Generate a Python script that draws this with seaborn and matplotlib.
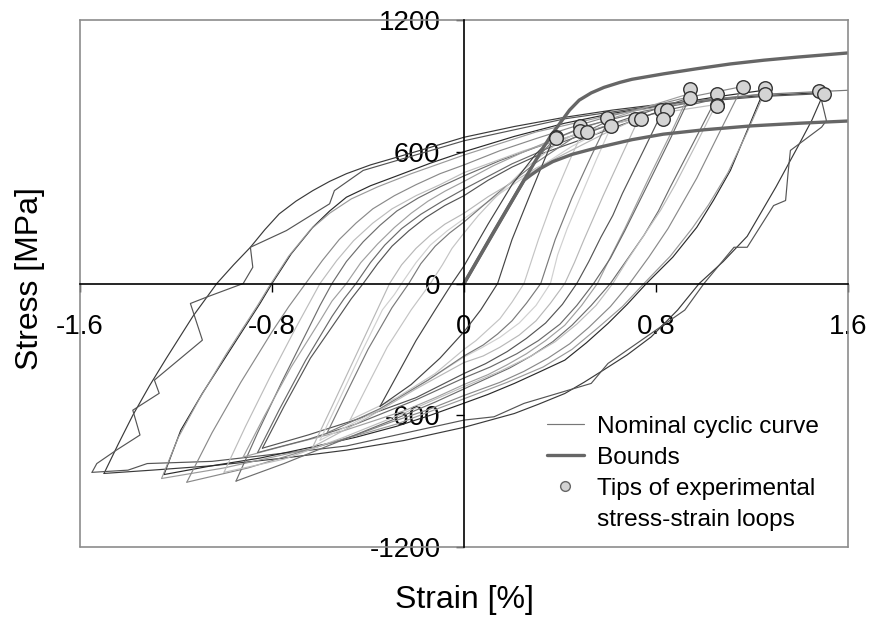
import matplotlib
matplotlib.use("Agg")
import matplotlib.pyplot as plt
import pandas as pd
import seaborn as sns
from matplotlib.lines import Line2D

sns.set_theme(style="white")
plt.rcParams["font.family"] = ["Liberation Sans", "DejaVu Sans"]
plt.rcParams["text.color"] = "black"
plt.rcParams["axes.labelcolor"] = "black"
plt.rcParams["xtick.color"] = "black"
plt.rcParams["ytick.color"] = "black"

# ---------------- axis ticks ----------------
x_ticks = [-1.6, -0.8, 0.0, 0.8, 1.6]
x_tick_labels = ["-1.6", "-0.8", "0", "0.8", "1.6"]
y_ticks = [-1200, -600, 0, 600, 1200]
y_tick_labels = ["-1200", "-600", "0", "600", "1200"]

# ---------------- hysteresis loops (strain %, stress MPa) ----------------
loop1_asc = [(-1.50, -865), (-1.44, -730), (-1.38, -600), (-1.31, -465), (-1.24, -340), (-1.13, -150),
             (-1.03, 0), (-0.96, 85), (-0.89, 165), (-0.83, 245), (-0.77, 317), (-0.70, 375),
             (-0.63, 423), (-0.56, 465), (-0.49, 500), (-0.39, 540), (-0.28, 575), (-0.14, 620),
             (0.0, 666), (0.21, 715), (0.42, 757), (0.62, 790), (0.83, 818), (1.04, 840),
             (1.25, 856), (1.50, 870)]
loop1_desc = [(1.50, 870), (1.45, 745), (1.39, 621), (1.30, 440), (1.18, 215), (1.08, 100),
              (0.98, 0), (0.89, -121), (0.78, -243), (0.68, -325), (0.58, -395), (0.50, -450),
              (0.42, -501), (0.31, -550), (0.21, -592), (0.10, -625), (0.0, -655), (-0.25, -715),
              (-0.49, -759), (-0.75, -795), (-1.05, -830), (-1.30, -850), (-1.50, -865)]
loop1b_asc = [(-1.55, -860), (-1.53, -820), (-1.45, -760), (-1.35, -690), (-1.38, -577), (-1.27, -500),
              (-1.29, -440), (-1.09, -258), (-1.14, -91), (-1.07, -61), (-0.92, 0), (-0.88, 74),
              (-0.89, 165), (-0.74, 241), (-0.56, 363), (-0.54, 423), (-0.42, 515), (-0.28, 560),
              (0.0, 650), (0.42, 750), (0.83, 815), (1.25, 852), (1.50, 865)]
loop1b_desc = [(1.50, 865), (1.49, 833), (1.51, 742), (1.49, 712), (1.36, 606), (1.35, 500),
               (1.34, 378), (1.29, 355), (1.18, 165), (1.125, 165), (1.0, 0), (0.92, -121),
               (0.60, -364), (0.53, -455), (0.25, -546), (0.125, -607), (0.0, -622), (-0.49, -740),
               (-1.05, -810), (-1.32, -820), (-1.40, -850), (-1.55, -860)]
loop2_asc = [(-1.25, -870), (-1.18, -668), (-1.09, -500), (-0.975, -304), (-0.85, -91), (-0.80, 0),
             (-0.72, 135), (-0.63, 256), (-0.56, 330), (-0.49, 393), (-0.39, 445), (-0.28, 490),
             (-0.14, 548), (0.0, 600), (0.21, 670), (0.42, 730), (0.62, 775), (0.83, 810),
             (1.05, 850), (1.25, 880)]
loop2_desc = [(1.25, 880), (1.18, 697), (1.11, 515), (1.04, 380), (0.97, 256), (0.87, 120), (0.76, 0),
              (0.68, -95), (0.60, -182), (0.51, -270), (0.42, -349), (0.31, -405), (0.21, -455),
              (0.10, -505), (0.0, -545), (-0.14, -600), (-0.28, -650), (-0.45, -700), (-0.63, -744),
              (-0.85, -795), (-1.05, -830), (-1.25, -870)]
loop2b_asc = [(-1.26, -888), (-1.19, -700), (-1.10, -520), (-0.99, -320), (-0.86, -100), (-0.81, -10),
              (-0.73, 125), (-0.64, 245), (-0.56, 320), (-0.47, 385), (-0.36, 440), (-0.22, 500),
              (0.0, 585), (0.30, 690), (0.62, 770), (0.95, 830), (1.25, 864)]
loop2b_desc = [(1.25, 864), (1.18, 690), (1.10, 505), (1.02, 360), (0.95, 250), (0.86, 125), (0.75, 0),
               (0.66, -105), (0.56, -200), (0.45, -300), (0.33, -380), (0.18, -450), (0.0, -525),
               (-0.28, -640), (-0.63, -750), (-1.0, -840), (-1.26, -888)]
loop3_asc = [(-1.155, -905), (-1.05, -680), (-0.93, -450), (-0.80, -220), (-0.73, -105), (-0.66, 0),
             (-0.59, 105), (-0.52, 200), (-0.45, 275), (-0.38, 340), (-0.29, 400), (-0.20, 450),
             (-0.10, 500), (0.0, 540), (0.15, 605), (0.30, 660), (0.45, 712), (0.60, 760),
             (0.75, 800), (0.90, 840), (1.16, 897)]
loop3_desc = [(1.16, 897), (1.07, 700), (0.97, 480), (0.91, 365), (0.85, 250), (0.77, 120), (0.69, 0),
              (0.61, -105), (0.52, -200), (0.44, -275), (0.35, -340), (0.25, -400), (0.15, -450),
              (0.0, -510), (-0.15, -575), (-0.30, -630), (-0.45, -690), (-0.60, -740), (-0.75, -790),
              (-0.90, -840), (-1.155, -905)]
loop4_asc = [(-0.95, -900), (-0.86, -680), (-0.76, -450), (-0.65, -210), (-0.60, -100), (-0.55, 0),
             (-0.49, 100), (-0.42, 190), (-0.35, 265), (-0.28, 330), (-0.19, 390), (-0.10, 440),
             (0.0, 490), (0.15, 560), (0.30, 620), (0.45, 672), (0.60, 720), (0.85, 790), (1.05, 840)]
loop4_desc = [(1.05, 840), (0.96, 650), (0.86, 440), (0.81, 330), (0.75, 220), (0.68, 110), (0.61, 0),
              (0.53, -100), (0.45, -190), (0.37, -265), (0.28, -330), (0.19, -385), (0.10, -430),
              (0.0, -480), (-0.12, -540), (-0.25, -600), (-0.50, -710), (-0.75, -820), (-0.95, -900)]
loop4b_asc = [(-1.0, -860), (-0.91, -650), (-0.81, -430), (-0.70, -200), (-0.65, -100), (-0.60, 0),
              (-0.53, 105), (-0.46, 195), (-0.38, 275), (-0.30, 340), (-0.20, 400), (-0.10, 450),
              (0.0, 505), (0.25, 605), (0.50, 690), (0.78, 770), (1.05, 815)]
loop4b_desc = [(1.05, 815), (0.97, 640), (0.88, 450), (0.82, 335), (0.75, 220), (0.68, 105), (0.62, 0),
               (0.55, -100), (0.47, -185), (0.38, -265), (0.28, -330), (0.15, -400), (0.0, -470),
               (-0.25, -590), (-0.50, -700), (-0.75, -800), (-1.0, -860)]
loop5_asc = [(-0.92, -790), (-0.83, -600), (-0.72, -380), (-0.60, -170), (-0.55, -80), (-0.49, 0),
             (-0.43, 95), (-0.36, 180), (-0.29, 255), (-0.22, 320), (-0.15, 375), (-0.08, 420),
             (0.0, 465), (0.12, 535), (0.25, 600), (0.38, 660), (0.50, 710), (0.75, 800), (0.94, 865)]
loop5_desc = [(0.94, 865), (0.86, 680), (0.77, 480), (0.72, 365), (0.67, 250), (0.61, 120), (0.556, 0),
              (0.49, -100), (0.42, -190), (0.34, -260), (0.26, -320), (0.18, -370), (0.10, -415),
              (0.0, -460), (-0.12, -520), (-0.25, -580), (-0.50, -670), (-0.75, -740), (-0.92, -790)]
loop5b_asc = [(-0.86, -770), (-0.77, -575), (-0.66, -350), (-0.55, -150), (-0.50, -70), (-0.45, 0),
              (-0.39, 95), (-0.33, 175), (-0.26, 250), (-0.18, 315), (-0.09, 375), (0.0, 430),
              (0.20, 545), (0.40, 640), (0.65, 740), (0.94, 846)]
loop5b_desc = [(0.94, 846), (0.86, 660), (0.77, 460), (0.72, 350), (0.67, 240), (0.61, 115), (0.54, 0),
               (0.47, -100), (0.40, -185), (0.31, -260), (0.22, -320), (0.11, -380), (0.0, -430),
               (-0.20, -530), (-0.45, -640), (-0.65, -710), (-0.86, -770)]
loop6_asc = [(-0.84, -750), (-0.75, -560), (-0.64, -340), (-0.52, -150), (-0.47, -70), (-0.42, 0),
             (-0.36, 90), (-0.30, 170), (-0.23, 240), (-0.16, 300), (-0.08, 355), (0.0, 400),
             (0.10, 470), (0.20, 530), (0.32, 590), (0.45, 640), (0.65, 720), (0.83, 790)]
loop6_desc = [(0.83, 790), (0.75, 610), (0.66, 410), (0.62, 310), (0.57, 210), (0.52, 100), (0.47, 0),
              (0.41, -95), (0.34, -180), (0.26, -250), (0.18, -310), (0.09, -365), (0.0, -410),
              (-0.10, -465), (-0.20, -520), (-0.45, -620), (-0.65, -690), (-0.84, -750)]
loop7_asc = [(-0.63, -744), (-0.55, -560), (-0.46, -350), (-0.37, -140), (-0.34, -70), (-0.31, 0),
             (-0.26, 85), (-0.20, 160), (-0.14, 220), (-0.08, 270), (0.0, 320), (0.10, 395),
             (0.20, 460), (0.30, 525), (0.40, 580), (0.58, 680), (0.73, 755)]
loop7_desc = [(0.73, 755), (0.66, 590), (0.58, 400), (0.54, 300), (0.50, 200), (0.46, 95), (0.42, 0),
              (0.36, -90), (0.30, -170), (0.23, -235), (0.15, -290), (0.08, -330), (0.0, -360),
              (-0.10, -420), (-0.20, -480), (-0.40, -610), (-0.63, -744)]
loop7b_asc = [(-0.60, -714), (-0.52, -530), (-0.43, -320), (-0.34, -120), (-0.29, -50), (-0.26, 0),
              (-0.20, 95), (-0.14, 175), (-0.07, 240), (0.0, 295), (0.15, 410), (0.30, 520),
              (0.45, 625), (0.614, 718)]
loop7b_desc = [(0.614, 718), (0.55, 560), (0.48, 380), (0.43, 250), (0.39, 130), (0.36, 0), (0.30, -100),
               (0.23, -180), (0.15, -245), (0.07, -295), (0.0, -335), (-0.15, -440), (-0.38, -590),
               (-0.60, -714)]
loop8_asc = [(-0.57, -680), (-0.49, -500), (-0.40, -300), (-0.30, -110), (-0.23, 0), (-0.18, 90),
             (-0.12, 170), (-0.06, 230), (0.0, 280), (0.08, 355), (0.15, 420), (0.30, 550),
             (0.45, 660), (0.60, 740)]
loop8_desc = [(0.60, 740), (0.53, 580), (0.45, 390), (0.38, 200), (0.35, 100), (0.32, 0), (0.26, -90),
              (0.20, -170), (0.14, -230), (0.08, -280), (0.0, -330), (-0.15, -440), (-0.35, -570),
              (-0.57, -680)]
loop9_asc = [(-0.475, -622), (-0.40, -460), (-0.32, -290), (-0.22, -120), (-0.14, 0), (-0.09, 85),
             (-0.05, 160), (0.0, 230), (0.06, 310), (0.12, 380), (0.25, 520), (0.38, 630), (0.50, 705)]
loop9_desc = [(0.50, 705), (0.44, 560), (0.37, 380), (0.31, 200), (0.28, 100), (0.25, 0), (0.20, -85),
              (0.15, -160), (0.05, -260), (0.0, -300), (-0.12, -410), (-0.28, -520), (-0.475, -622)]
loop10_asc = [(-0.35, -560), (-0.28, -420), (-0.20, -260), (-0.12, -120), (-0.05, 0), (0.0, 80),
              (0.10, 270), (0.20, 450), (0.30, 590), (0.38, 680)]
loop10_desc = [(0.38, 680), (0.33, 550), (0.27, 390), (0.20, 200), (0.17, 100), (0.14, 0), (0.07, -120),
               (0.0, -220), (-0.10, -340), (-0.22, -460), (-0.35, -560)]

loop_branches = [
    ("L1a", loop1_asc, "#3a3a3a"), ("L1d", loop1_desc, "#3a3a3a"),
    ("L1ba", loop1b_asc, "#555555"), ("L1bd", loop1b_desc, "#555555"),
    ("L2a", loop2_asc, "#2a2a2a"), ("L2d", loop2_desc, "#2a2a2a"),
    ("L2ba", loop2b_asc, "#9a9a9a"), ("L2bd", loop2b_desc, "#9a9a9a"),
    ("L3a", loop3_asc, "#8a8a8a"), ("L3d", loop3_desc, "#8a8a8a"),
    ("L4a", loop4_asc, "#6e6e6e"), ("L4d", loop4_desc, "#6e6e6e"),
    ("L4ba", loop4b_asc, "#bdbdbd"), ("L4bd", loop4b_desc, "#bdbdbd"),
    ("L5a", loop5_asc, "#a0a0a0"), ("L5d", loop5_desc, "#a0a0a0"),
    ("L5ba", loop5b_asc, "#6a6a6a"), ("L5bd", loop5b_desc, "#6a6a6a"),
    ("L6a", loop6_asc, "#555555"), ("L6d", loop6_desc, "#555555"),
    ("L7a", loop7_asc, "#b8b8b8"), ("L7d", loop7_desc, "#b8b8b8"),
    ("L7ba", loop7b_asc, "#d0d0d0"), ("L7bd", loop7b_desc, "#d0d0d0"),
    ("L8a", loop8_asc, "#7a7a7a"), ("L8d", loop8_desc, "#7a7a7a"),
    ("L9a", loop9_asc, "#c4c4c4"), ("L9d", loop9_desc, "#c4c4c4"),
    ("L10a", loop10_asc, "#444444"), ("L10d", loop10_desc, "#444444"),
]

# ---------------- bounds and nominal cyclic curve ----------------
bound_upper_strain = [0.0, 0.125, 0.25, 0.32, 0.36, 0.40, 0.44, 0.48, 0.53, 0.583, 0.65, 0.70, 0.833,
                      0.97, 1.111, 1.25, 1.389, 1.6]
bound_upper_stress = [0, 238, 470, 600, 670, 730, 790, 835, 868, 893, 916, 930, 955,
                      978, 1000, 1017, 1031, 1050]
bound_lower_strain = [0.0, 0.25, 0.28, 0.32, 0.37, 0.45, 0.55, 0.70, 0.83, 1.0, 1.20, 1.40, 1.6]
bound_lower_stress = [0, 470, 495, 525, 555, 588, 617, 655, 680, 700, 718, 730, 740]
nominal_strain = [0.0, 0.25, 0.32, 0.38, 0.50, 0.75, 1.00, 1.25, 1.50, 1.6]
nominal_stress = [0, 470, 590, 660, 715, 785, 835, 862, 875, 880]

# ---------------- loop tips ----------------
tips_strain = [0.383, 0.385, 0.483, 0.483, 0.514, 0.595, 0.614, 0.714, 0.736, 0.822, 0.845, 0.830,
               0.942, 0.942, 1.053, 1.053, 1.053, 1.161, 1.253, 1.253, 1.480, 1.500]
tips_stress = [669, 662, 718, 694, 691, 755, 718, 751, 751, 791, 791, 751,
               885, 846, 864, 815, 808, 897, 891, 864, 876, 864]

legend_labels = ["Nominal cyclic curve", "Bounds", "Tips of experimental", "stress-strain loops"]

# ---------------- figure ----------------
fig = plt.figure(figsize=(8.69, 6.19), dpi=100)
ax = fig.add_axes([80 / 869, 1 - 547 / 619, 768 / 869, 527 / 619])

rows = []
for name, pts, color in loop_branches:
    for i, (sx, sy) in enumerate(pts):
        rows.append({"branch": name, "order": i, "strain": sx, "stress": sy})
df = pd.DataFrame(rows)
colors = {name: c for name, _, c in loop_branches}
for name, sub in df.groupby("branch", sort=False):
    sns.lineplot(data=sub, x="strain", y="stress", sort=False, estimator=None,
                 color=colors[name], lw=0.85, ax=ax, legend=False)

sns.lineplot(x=nominal_strain, y=nominal_stress, sort=False, estimator=None,
             color="#777777", lw=0.85, ax=ax)
sns.lineplot(x=bound_upper_strain, y=bound_upper_stress, sort=False, estimator=None,
             color="#666666", lw=2.4, ax=ax)
sns.lineplot(x=bound_lower_strain, y=bound_lower_stress, sort=False, estimator=None,
             color="#666666", lw=2.4, ax=ax)
sns.scatterplot(x=tips_strain, y=tips_stress, s=95, color="#d4d4d4",
                edgecolor="#333333", linewidth=1.0, zorder=5, ax=ax)

ax.set_xlim(-1.6, 1.6)
ax.set_ylim(-1200, 1200)
ax.set_xticks(x_ticks)
ax.set_xticklabels(x_tick_labels)
ax.set_yticks(y_ticks)
ax.set_yticklabels(y_tick_labels)

# spines: zero axes in black, outer frame in gray
for s in ["left", "bottom"]:
    ax.spines[s].set_position(("data", 0))
    ax.spines[s].set_color("black")
    ax.spines[s].set_linewidth(1.2)
    ax.spines[s].set_zorder(6)
for s in ["top", "right"]:
    ax.spines[s].set_color("#8c8c8c")
    ax.spines[s].set_linewidth(1.2)
ax.plot([0, 0], [0, 1], transform=ax.transAxes, color="#8c8c8c", lw=1.2, clip_on=False)
ax.plot([0, 1], [0, 0], transform=ax.transAxes, color="#8c8c8c", lw=1.2, clip_on=False)

ax.tick_params(axis="x", bottom=True, direction="out", length=6, width=1, pad=16,
               labelsize=20, colors="black")
ax.tick_params(axis="y", left=True, direction="out", length=6, width=1, pad=11,
               labelsize=20, colors="black")

ax.set_xlabel("Strain [%]", fontsize=23, va="center", color="black")
ax.xaxis.set_label_coords(0.5, -0.1006)
ax.set_ylabel("Stress [MPa]", fontsize=23, va="center", color="black")
ax.yaxis.set_label_coords(-0.065, 0.5085)

handles = [
    Line2D([], [], color="#777777", lw=0.85),
    Line2D([], [], color="#666666", lw=2.4),
    Line2D([], [], marker="o", ls="", markerfacecolor="#d4d4d4",
           markeredgecolor="#666666", markersize=7),
    Line2D([], [], ls="", marker=""),
]
leg = ax.legend(handles, legend_labels, loc="upper left", bbox_to_anchor=(0.608, 0.249),
                frameon=False, fontsize=17.6, handlelength=1.5, handletextpad=0.55,
                labelspacing=0.36, borderaxespad=0, borderpad=0)
for t in leg.get_texts():
    t.set_color("black")

fig.savefig("out.png", dpi=100)
